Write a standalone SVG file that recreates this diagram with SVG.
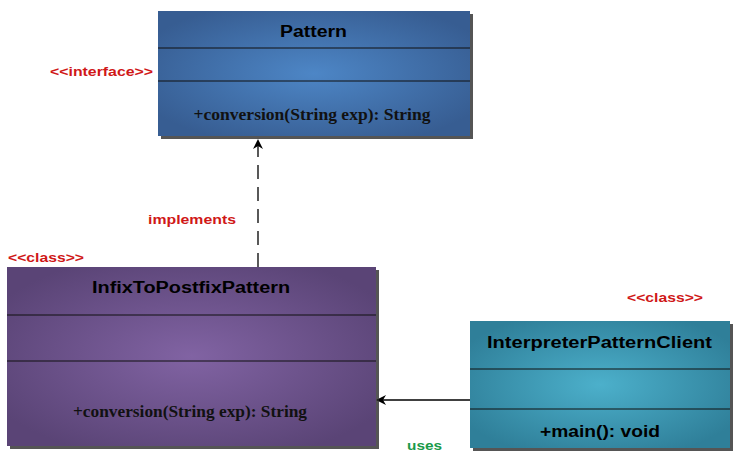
<svg xmlns="http://www.w3.org/2000/svg" width="740" height="466" viewBox="0 0 740 466">
<defs>
<radialGradient id="gBlue" cx="50%" cy="50%" r="60%">
<stop offset="0" stop-color="#4d86c6"/><stop offset="1" stop-color="#375d92"/>
</radialGradient>
<radialGradient id="gPurple" cx="50%" cy="50%" r="60%">
<stop offset="0" stop-color="#8163a3"/><stop offset="1" stop-color="#5a4476"/>
</radialGradient>
<radialGradient id="gTeal" cx="50%" cy="50%" r="60%">
<stop offset="0" stop-color="#4cb0cb"/><stop offset="1" stop-color="#2f7f99"/>
</radialGradient>
<marker id="arr" markerWidth="10" markerHeight="10" refX="9" refY="5" orient="auto" markerUnits="userSpaceOnUse">
<path d="M0,0 L10,5 L0,10 L3,5 Z" fill="#000"/>
</marker>
</defs>
<style>
.title{font-family:"Liberation Sans",Arial,sans-serif;font-weight:bold;font-size:16px;fill:#000;text-anchor:middle}
.meth{font-family:"Liberation Serif","Times New Roman",serif;font-weight:bold;font-size:17.5px;fill:#111;text-anchor:middle}
.meth2{font-family:"Liberation Sans",Arial,sans-serif;font-weight:bold;font-size:16px;fill:#000;text-anchor:middle}
.stereo{font-family:"Liberation Sans",Arial,sans-serif;font-weight:bold;font-size:13px;fill:#d01818}
.uses{font-family:"Liberation Sans",Arial,sans-serif;font-weight:bold;font-size:13px;fill:#1a9a4a}
.div{stroke:#111;stroke-width:1}
.shadow{fill:#2a2a2a;opacity:0.8}
</style>
<g id="connectors">
<line x1="258" y1="267" x2="258" y2="140" stroke="#000" stroke-width="1.3" stroke-dasharray="14,8" marker-end="url(#arr)"/>
<line x1="470" y1="400" x2="377" y2="400" stroke="#000" stroke-width="1.3" marker-end="url(#arr)"/>
</g>
<g id="pattern">
<rect x="161" y="14" width="312" height="125" class="shadow"/>
<rect x="158" y="11" width="312" height="125" fill="url(#gBlue)"/>
<line x1="158" y1="48" x2="470" y2="48" class="div"/>
<line x1="158" y1="81" x2="470" y2="81" class="div"/>
<text x="313.5" y="37" class="title" textLength="67" lengthAdjust="spacingAndGlyphs">Pattern</text>
<text x="312" y="120" class="meth" textLength="237" lengthAdjust="spacingAndGlyphs">+conversion(String exp): String</text>
</g>
<g id="infix">
<rect x="10" y="270" width="369" height="179" class="shadow"/>
<rect x="7" y="267" width="369" height="179" fill="url(#gPurple)"/>
<line x1="7" y1="315" x2="376" y2="315" class="div"/>
<line x1="7" y1="361" x2="376" y2="361" class="div"/>
<text x="191" y="293" class="title" textLength="198" lengthAdjust="spacingAndGlyphs">InfixToPostfixPattern</text>
<text x="190" y="416.5" class="meth" textLength="234" lengthAdjust="spacingAndGlyphs">+conversion(String exp): String</text>
</g>
<g id="client">
<rect x="473" y="324" width="260" height="127" class="shadow"/>
<rect x="470" y="321" width="260" height="127" fill="url(#gTeal)"/>
<line x1="470" y1="369" x2="730" y2="369" class="div"/>
<line x1="470" y1="409" x2="730" y2="409" class="div"/>
<text x="599.5" y="347.5" class="title" textLength="225" lengthAdjust="spacingAndGlyphs">InterpreterPatternClient</text>
<text x="600" y="437" class="meth2" textLength="120" lengthAdjust="spacingAndGlyphs">+main(): void</text>
</g>
<g id="labels">
<text x="50" y="76" class="stereo" textLength="103" lengthAdjust="spacingAndGlyphs">&lt;&lt;interface&gt;&gt;</text>
<text x="8" y="262" class="stereo" textLength="76" lengthAdjust="spacingAndGlyphs">&lt;&lt;class&gt;&gt;</text>
<text x="627" y="302" class="stereo" textLength="76" lengthAdjust="spacingAndGlyphs">&lt;&lt;class&gt;&gt;</text>
<text x="148" y="224" class="stereo" textLength="88" lengthAdjust="spacingAndGlyphs">implements</text>
<text x="407" y="450" class="uses" textLength="35" lengthAdjust="spacingAndGlyphs">uses</text>
</g>
</svg>
